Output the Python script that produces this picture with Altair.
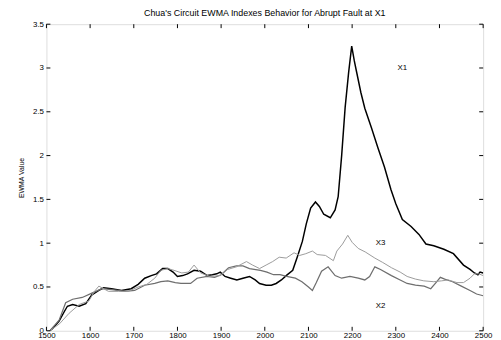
import altair as alt
import pandas as pd

# ---- data ----
x1_t = [1508, 1515, 1529, 1541, 1548, 1560, 1575, 1590, 1604, 1620,
        1631, 1649, 1672, 1694, 1710, 1725, 1740, 1752, 1766, 1778,
        1790, 1800, 1812, 1823, 1838, 1853, 1868, 1880, 1890, 1898,
        1909, 1922, 1936, 1950, 1965, 1978, 1988, 2003, 2015, 2026,
        2038, 2049, 2064, 2075, 2086, 2095, 2105, 2116, 2125, 2135,
        2150, 2161, 2168, 2176, 2184, 2192, 2199, 2205, 2210, 2220,
        2229, 2244, 2259, 2274, 2289, 2300, 2315, 2335, 2353, 2369,
        2387, 2410, 2432, 2455, 2470, 2480, 2488, 2493, 2500]
x1_v = [0.00, 0.03, 0.11, 0.22, 0.28, 0.30, 0.28, 0.31, 0.41, 0.46,
        0.49, 0.48, 0.46, 0.48, 0.53, 0.60, 0.63, 0.65, 0.71, 0.71,
        0.67, 0.62, 0.63, 0.65, 0.69, 0.68, 0.63, 0.64, 0.65, 0.67,
        0.62, 0.60, 0.58, 0.60, 0.62, 0.58, 0.54, 0.52, 0.52, 0.54,
        0.58, 0.63, 0.69, 0.85, 1.02, 1.22, 1.40, 1.47, 1.42, 1.33,
        1.29, 1.38, 1.53, 2.00, 2.55, 2.95, 3.25, 3.08, 2.96, 2.72,
        2.54, 2.32, 2.09, 1.87, 1.61, 1.45, 1.27, 1.19, 1.10, 0.99,
        0.97, 0.93, 0.88, 0.75, 0.70, 0.66, 0.64, 0.67, 0.66]

x2_t = [1508, 1529, 1544, 1560, 1582, 1604, 1627, 1650, 1680, 1702,
        1725, 1748, 1762, 1778, 1795, 1808, 1830, 1845, 1868, 1885,
        1900, 1917, 1935, 1950, 1965, 1990, 2005, 2020, 2035, 2050,
        2070, 2085, 2100, 2109, 2118, 2130, 2145, 2161, 2176, 2195,
        2214, 2229, 2240, 2252, 2265, 2290, 2310, 2326, 2345, 2365,
        2380, 2392, 2402, 2412, 2430, 2450, 2470, 2485, 2500]
x2_v = [0.00, 0.12, 0.32, 0.36, 0.38, 0.43, 0.48, 0.47, 0.45, 0.46,
        0.52, 0.54, 0.56, 0.57, 0.55, 0.54, 0.54, 0.60, 0.62, 0.61,
        0.64, 0.72, 0.74, 0.74, 0.71, 0.69, 0.67, 0.64, 0.64, 0.62,
        0.60, 0.56, 0.50, 0.46, 0.55, 0.68, 0.73, 0.63, 0.60, 0.62,
        0.60, 0.58, 0.62, 0.73, 0.70, 0.63, 0.58, 0.54, 0.52, 0.51,
        0.48, 0.55, 0.61, 0.59, 0.56, 0.51, 0.46, 0.42, 0.40]

x3_t = [1508, 1530, 1552, 1575, 1597, 1610, 1620, 1642, 1665, 1687,
        1710, 1730, 1748, 1762, 1778, 1792, 1810, 1825, 1838, 1853,
        1875, 1898, 1915, 1935, 1958, 1972, 1988, 2003, 2018, 2033,
        2049, 2067, 2080, 2094, 2109, 2120, 2139, 2157, 2165, 2178,
        2190, 2200, 2214, 2230, 2252, 2270, 2290, 2310, 2326, 2345,
        2364, 2387, 2405, 2420, 2440, 2455, 2470, 2480, 2490, 2500]
x3_v = [0.00, 0.08, 0.20, 0.30, 0.34, 0.45, 0.51, 0.45, 0.45, 0.45,
        0.50, 0.53, 0.60, 0.69, 0.71, 0.69, 0.66, 0.67, 0.75, 0.66,
        0.62, 0.63, 0.70, 0.73, 0.79, 0.75, 0.71, 0.75, 0.79, 0.84,
        0.83, 0.89, 0.86, 0.88, 0.91, 0.87, 0.86, 0.80, 0.91, 0.99,
        1.09, 1.01, 0.94, 0.90, 0.83, 0.78, 0.72, 0.67, 0.62, 0.59,
        0.57, 0.56, 0.57, 0.58, 0.55, 0.55, 0.60, 0.65, 0.65, 0.63]

series_names = ["X1", "X2", "X3"]
series_colors = ["#000000", "#6e6e6e", "#9a9a9a"]
series_widths = [1.5, 1.0, 1.0]

label_text = ["X1", "X3", "X2"]
label_x = [2315, 2265, 2265]
label_y = [3.0, 1.0, 0.28]

x_ticks = [1500, 1600, 1700, 1800, 1900, 2000, 2100, 2200, 2300, 2400, 2500]
y_ticks = [0, 0.5, 1, 1.5, 2, 2.5, 3, 3.5]

title_text = "Chua's Circuit EWMA Indexes Behavior for Abrupt Fault at X1"
y_title = "EWMA Value"

# ---- build tables ----
rows = []
for name, ts, vs in [("X1", x1_t, x1_v), ("X2", x2_t, x2_v), ("X3", x3_t, x3_v)]:
    for t, v in zip(ts, vs):
        rows.append({"t": t, "v": v, "s": name})
df = pd.DataFrame(rows)
labels = pd.DataFrame({"txt": label_text, "t": label_x, "v": label_y})
xt = pd.DataFrame({"t": x_ticks})
yt = pd.DataFrame({"v": y_ticks})

W, H = 443, 311
FONT = "Liberation Sans"

xscale = alt.Scale(domain=[1500, 2500], nice=False, zero=False)
yscale = alt.Scale(domain=[0, 3.5], nice=False)

xaxis = alt.Axis(values=x_ticks, tickSize=0, domain=False, grid=False, format="d",
                 labelPadding=1, labelFontSize=8, labelFont=FONT,
                 labelColor="black", title=None, labelFlush=False)
yaxis = alt.Axis(values=y_ticks, tickSize=0, domain=False, grid=False, format="~g",
                 labelPadding=3, labelFontSize=8, labelFont=FONT,
                 labelColor="black", title=y_title, titleFont=FONT,
                 titleFontSize=7, titleFontWeight="normal", titleColor="black",
                 titleX=-22, titleY=H / 2, labelFlush=False)

lines = alt.Chart(df).mark_line(clip=True).encode(
    x=alt.X("t:Q", scale=xscale, axis=xaxis),
    y=alt.Y("v:Q", scale=yscale, axis=yaxis),
    color=alt.Color("s:N", scale=alt.Scale(domain=series_names, range=series_colors), legend=None),
    strokeWidth=alt.StrokeWidth("s:N", scale=alt.Scale(domain=series_names, range=series_widths), legend=None),
    order=alt.Order("t:Q"),
)

texts = alt.Chart(labels).mark_text(font=FONT, fontSize=8, color="black").encode(
    x=alt.X("t:Q", scale=xscale), y=alt.Y("v:Q", scale=yscale), text="txt:N"
)

tick_len = 4
bottom_ticks = alt.Chart(xt).mark_rule(color="black", strokeWidth=1).encode(
    x=alt.X("t:Q", scale=xscale), y=alt.value(H), y2=alt.value(H - tick_len))
top_ticks = alt.Chart(xt).mark_rule(color="black", strokeWidth=1).encode(
    x=alt.X("t:Q", scale=xscale), y=alt.value(0), y2=alt.value(tick_len))
left_ticks = alt.Chart(yt).mark_rule(color="black", strokeWidth=1).encode(
    y=alt.Y("v:Q", scale=yscale), x=alt.value(0), x2=alt.value(tick_len))
right_ticks = alt.Chart(yt).mark_rule(color="black", strokeWidth=1).encode(
    y=alt.Y("v:Q", scale=yscale), x=alt.value(W), x2=alt.value(W - tick_len))

chart = alt.layer(lines, texts, bottom_ticks, top_ticks, left_ticks, right_ticks).properties(
    width=W, height=H,
    title=alt.TitleParams(title_text, font=FONT, fontSize=9, fontWeight="normal",
                          color="black", offset=2, anchor="middle"),
    autosize=alt.AutoSizeParams(type="none"),
    padding={"left": 39, "top": 14, "right": 10, "bottom": 11},
).configure_view(stroke="black", strokeWidth=1).configure(background="white")

chart.save("out.html", embed_options={"renderer": "svg", "actions": False})
